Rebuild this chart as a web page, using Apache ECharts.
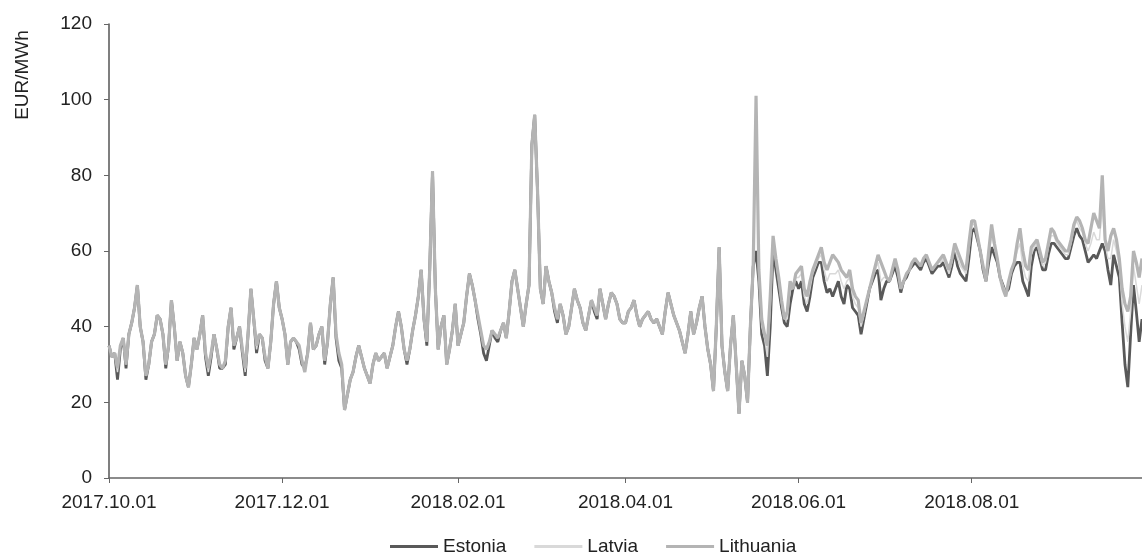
<!DOCTYPE html>
<html><head><meta charset="utf-8">
<script src="https://cdn.jsdelivr.net/npm/echarts@6/dist/echarts.min.js"></script>
<style>html,body{margin:0;padding:0;background:#fff}#c{width:1142px;height:553px}</style>
</head><body><div id="c"></div>
<script>
const seriesNames = ['Estonia', 'Latvia', 'Lithuania'];
const tickLabels = ['2017.10.01', '2017.12.01', '2018.02.01', '2018.04.01', '2018.06.01', '2018.08.01'];
const yTicks = [0, 20, 40, 60, 80, 100, 120];

const lithuania = [
35,32,33,29,35,37,30,38,41,45,51,40,36,27,30,36,38,43,42,38,
30,35,47,40,31,36,33,27,24,30,37,34,38,43,33,29,33,38,34,30,
29,31,40,45,35,37,40,34,29,38,50,42,35,38,37,32,29,36,46,52,45,
42,38,30,36,37,36,35,31,28,33,41,34,35,38,40,31,36,46,53,38,
33,30,18,22,26,28,32,35,32,29,27,25,30,33,31,32,33,29,32,35,
40,44,40,34,31,34,39,43,48,55,42,36,55,81,50,34,40,43,30,34,39,46,
35,38,41,48,54,51,47,43,39,35,34,36,39,38,37,39,41,37,44,52,
55,50,45,40,46,51,88,96,76,50,46,56,52,49,45,42,46,43,38,40,
45,50,47,45,41,39,43,47,45,43,50,46,42,46,49,48,46,42,41,41,44,
45,47,43,40,42,43,44,42,41,42,40,38,44,49,46,43,41,39,36,33,
38,44,38,41,45,48,40,34,30,23,40,61,35,28,23,35,43,30,17,31,
27,20,40,56,101,55,42,38,35,48,64,58,53,47,42,44,52,50,54,55,
56,50,48,52,55,57,59,61,57,55,57,59,58,57,55,54,53,55,50,48,
47,41,44,47,50,53,56,59,57,55,53,52,55,58,55,50,52,54,55,57,
58,57,56,58,59,57,55,56,57,58,59,57,55,58,62,60,58,56,55,62,68,
68,64,60,56,52,60,67,62,58,53,50,48,52,55,57,62,66,60,56,55,
61,62,63,60,57,58,62,66,65,63,62,61,60,60,63,67,69,68,66,63,
62,66,70,68,66,80,63,60,64,66,63,58,50,46,44,48,60,57,53,58
];

const estonia = [
35,32,33,26,34,37,29,38,41,45,51,40,36,26,30,36,38,43,42,38,
29,35,47,40,31,36,33,27,24,30,37,34,38,43,32,27,32,38,34,29,
29,30,40,45,34,37,40,33,27,38,50,42,33,38,37,31,29,36,46,52,45,
42,38,30,36,37,36,34,30,29,33,41,34,35,38,40,30,36,46,53,37,
31,29,18,22,26,28,32,35,32,29,27,25,30,33,31,32,33,29,32,35,
40,44,40,34,30,34,39,43,48,55,42,35,55,81,50,34,40,43,30,34,39,46,
35,38,41,48,54,51,47,42,38,33,31,35,39,37,36,39,41,37,44,52,
55,50,45,40,46,51,88,96,76,50,46,56,52,49,44,41,46,43,38,40,
45,50,47,45,41,39,43,47,44,42,50,46,42,46,49,48,46,42,41,41,44,
45,47,43,40,42,43,44,42,41,42,40,38,44,49,46,43,41,39,36,33,
38,44,38,41,45,48,40,34,30,23,40,61,35,28,23,35,43,30,17,31,
27,20,40,56,60,52,38,35,27,40,60,55,50,45,41,40,46,50,52,50,
52,46,44,48,53,55,57,57,52,49,50,48,50,52,48,46,51,50,45,44,
43,38,42,46,50,52,54,55,47,50,52,52,54,56,53,49,52,53,55,56,
57,56,55,57,58,56,54,55,56,56,57,55,53,56,60,56,54,53,52,58,65,
66,63,60,55,52,57,61,59,57,53,51,49,50,54,56,57,57,52,50,48,
56,60,61,58,55,55,59,62,62,61,60,59,58,58,61,64,66,64,63,60,
57,58,59,58,60,62,60,55,51,59,56,53,41,30,24,38,51,44,36,42
];

const latvia = [
35,32,33,28,35,37,30,38,41,45,51,40,36,27,30,36,38,43,42,38,
30,35,47,40,31,36,33,27,24,30,37,34,38,43,33,28,33,38,34,30,
29,31,40,45,35,37,40,34,28,38,50,42,34,38,37,32,29,36,46,52,45,
42,38,30,36,37,36,35,31,28,33,41,34,35,38,40,31,36,46,53,38,
33,30,18,22,26,28,32,35,32,29,27,25,30,33,31,32,33,29,32,35,
40,44,40,34,31,34,39,43,48,55,42,36,55,81,50,34,40,43,30,34,39,46,
35,38,41,48,54,51,47,43,39,35,34,36,39,38,37,39,41,37,44,52,
55,50,45,40,46,51,88,96,76,50,46,56,52,49,45,42,46,43,38,40,
45,50,47,45,41,39,43,47,45,43,50,46,42,46,49,48,46,42,41,41,44,
45,47,43,40,42,43,44,42,41,42,40,38,44,49,46,43,41,39,36,33,
38,44,38,41,45,48,40,34,30,23,40,61,35,28,23,35,43,30,17,31,
27,20,40,56,95,54,40,37,32,45,62,57,52,46,42,42,50,50,53,53,
54,48,46,50,54,56,58,59,55,52,54,54,54,55,52,50,52,53,48,46,
45,40,43,47,50,53,55,57,52,53,53,52,55,57,54,50,52,54,55,57,
58,57,56,58,59,57,55,56,57,57,58,56,54,57,61,58,56,55,54,60,67,
67,64,60,56,52,59,64,61,58,53,51,49,51,55,57,60,62,56,53,52,
59,61,62,59,56,57,61,64,64,62,61,60,59,59,62,66,68,66,65,62,
60,62,65,63,63,72,62,58,58,63,60,56,46,40,36,44,56,51,46,51
];

// daily categories 2017.10.01 .. 2018.09.30
const pad = n => (n < 10 ? '0' : '') + n;
const dates = [];
for (let i = 0; i < lithuania.length; i++) {
  const d = new Date(Date.UTC(2017, 9, 1 + i));
  dates.push(d.getUTCFullYear() + '.' + pad(d.getUTCMonth() + 1) + '.' + pad(d.getUTCDate()));
}

const FONT = '"Liberation Sans", Arial, sans-serif';
const chart = echarts.init(document.getElementById('c'), null, {renderer: 'canvas'});
const isTick = (i, v) => tickLabels.indexOf(v) >= 0;

chart.setOption({
  animation: false,
  backgroundColor: '#ffffff',
  grid: {left: 109, right: -4, top: 24, bottom: 75, containLabel: false},
  xAxis: {
    type: 'category', boundaryGap: false, data: dates,
    axisLine: {show: true, lineStyle: {color: '#666', width: 1.5}},
    axisTick: {show: true, interval: isTick, length: 5, lineStyle: {color: '#666'}},
    axisLabel: {interval: isTick, margin: 15, fontSize: 19, color: '#222', fontFamily: FONT},
    splitLine: {show: false}
  },
  yAxis: {
    type: 'value', min: yTicks[0], max: yTicks[yTicks.length - 1], interval: 20,
    axisLine: {show: true, lineStyle: {color: '#555', width: 1.5}},
    axisTick: {show: true, length: 5, lineStyle: {color: '#666'}},
    axisLabel: {margin: 17, fontSize: 19, color: '#222', fontFamily: FONT},
    splitLine: {show: false}
  },
  legend: {
    data: [
      {name: 'Estonia', icon: 'rect', itemStyle: {color: '#595959'}},
      {name: 'Latvia', icon: 'rect', itemStyle: {color: '#d9d9d9'}},
      {name: 'Lithuania', icon: 'rect', itemStyle: {color: '#b4b4b4'}}
    ],
    left: 385, top: 532, itemWidth: 48, itemHeight: 3, itemGap: 28,
    textStyle: {fontSize: 19, color: '#222', fontFamily: FONT}
  },
  graphic: [{
    type: 'text', x: 23, y: 75, rotation: Math.PI / 2,
    style: {text: 'EUR/MWh', fontSize: 19, fontFamily: FONT, fill: '#222', textAlign: 'center', textVerticalAlign: 'middle'}
  }],
  series: [
    {name: seriesNames[0], type: 'line', data: estonia, showSymbol: false, symbol: 'none', z: 2,
     lineStyle: {color: '#595959', width: 2.8}, itemStyle: {color: '#595959'}},
    {name: seriesNames[1], type: 'line', data: latvia, showSymbol: false, symbol: 'none', z: 3,
     lineStyle: {color: '#d9d9d9', width: 1.5}, itemStyle: {color: '#d9d9d9'}},
    {name: seriesNames[2], type: 'line', data: lithuania, showSymbol: false, symbol: 'none', z: 4,
     lineStyle: {color: '#b4b4b4', width: 3.2}, itemStyle: {color: '#b4b4b4'}}
  ]
});
</script>
</body></html>
